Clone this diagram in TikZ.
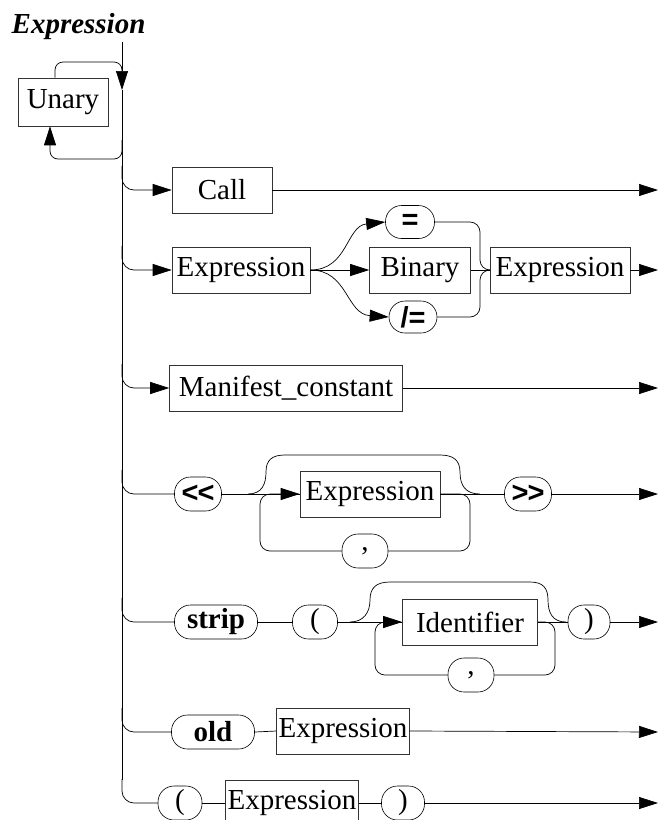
\documentclass[tikz,border=0pt]{standalone}
\usepackage{fontspec}
\setmainfont{Liberation Serif}
\newfontfamily\opfont{Liberation Sans}
\usetikzlibrary{arrows.meta}

\tikzset{
  ntbox/.style={draw=black!80, line width=0.6pt, minimum height=46pt, inner sep=2pt, font=\fontsize{29}{32}\selectfont},
  tmoval/.style={draw, line width=0.6pt, rounded corners=16pt, minimum height=34pt, inner sep=2pt, font=\fontsize{29}{32}\selectfont},
  arr/.style={-{Triangle[length=19pt,width=12pt]}},
}

\begin{document}
\begin{tikzpicture}[x=1pt, y=-1pt, line width=0.7pt]

\useasboundingbox (0,0) rectangle (660,820);

\node[anchor=base west, font=\fontsize{29}{32}\selectfont\bfseries\itshape] (title) at (8,33) {Expression};

\node[ntbox, minimum width=90pt, minimum height=48pt] (un) at (63,102) {Unary};

\node[ntbox, minimum width=100pt] (call) at (222,190) {Call};

\node[ntbox, minimum width=138pt] (ex1) at (241,270) {Expression};
\node[tmoval, minimum width=49pt, minimum height=33pt] (eq) at (410,222) {\opfont\bfseries =};
\node[ntbox, minimum width=101pt] (bin) at (420,270) {Binary};
\node[tmoval, minimum width=48pt, minimum height=32pt] (ne) at (413,317) {\opfont\bfseries /=};
\node[ntbox, minimum width=140pt] (ex2) at (560,270) {Expression};

\node[ntbox, minimum width=233pt] (mc) at (286,388) {Manifest\_constant};

\node[tmoval, minimum width=47pt] (lt) at (198,494) {\opfont\bfseries <\kern-1pt<};
\node[ntbox, minimum width=140pt] (lx) at (370,494) {Expression};
\node[tmoval, minimum width=46pt] (lc) at (365,551) {,};
\node[tmoval, minimum width=47pt] (gt) at (528,494) {\opfont\bfseries >\kern-1pt>};

\node[tmoval, minimum width=83pt] (st) at (216,622) {\bfseries strip};
\node[tmoval, minimum width=45pt] (lp) at (315,622) {(};
\node[ntbox, minimum width=135pt] (id) at (470,622) {Identifier};
\node[tmoval, minimum width=46pt] (sc) at (471,675) {,};
\node[tmoval, minimum width=42pt] (rp) at (589,622) {)};

\node[tmoval, minimum width=83pt] (od) at (213,732) {\bfseries old};
\node[ntbox, minimum width=130pt] (ox) at (343,731) {Expression};

\node[tmoval, minimum width=44pt] (pl) at (180,803) {(};
\node[ntbox, minimum width=130pt] (px) at (292,803) {Expression};
\node[tmoval, minimum width=43pt] (pr) at (403,803) {)};

\coordinate (top) at (122,42);
\coordinate (bot) at (122,780);
\foreach \n/\y in {1/190, 2/270, 3/388, 4/494, 5/622, 6/732, 7/803} {
  \coordinate (end\n) at (658,\y);
}



\draw[arr] (top) -- (122,90);
\draw (122,90) -- (bot);
\draw[rounded corners=8pt] ([xshift=-8pt]un.north) -- (55,62) -- (122,62) -- (122,80);
\draw[arr, rounded corners=8pt] (122,140) |- (50,159) -- ([xshift=-13pt]un.south);

\foreach \n/\y in {call/190, ex1/270, mc/388} {
  \draw[arr, rounded corners=12pt] (122,\y-24) |- (\n.west);
}
\foreach \n/\y in {lt/494, st/622, od/732, pl/803} {
  \draw[rounded corners=12pt] (122,\y-24) |- (\n.west);
}



\draw[arr] (call.east) -- (end1);

\draw[arr] (ex1.east) -- (bin.west);
\draw[arr] (ex1.east) .. controls (348,270) and (346,226) .. (eq.west);
\draw[arr] (ex1.east) .. controls (348,270) and (346,314) .. (ne.west);
\draw (bin.east) -- (ex2.west);
\draw[rounded corners=10pt] (eq.east) -| (480,270) -- (ex2.west);
\draw[rounded corners=10pt] (ne.east) -| (480,270) -- (ex2.west);
\draw[arr] (ex2.east) -- (end2);

\draw[arr] (mc.east) -- (end3);

\draw (lt.east) -- (lx.west);
\draw (lx.east) -- (gt.west);
\draw[arr] (gt.east) -- (end4);
\draw (248,494) .. controls (262,494) and (266,484) .. (266,472) .. controls (266,460) and (272,455) .. (285,455) -- (440,455) .. controls (453,455) and (460,460) .. (460,472) .. controls (460,486) and (466,494) .. (480,494);
\draw[rounded corners=10pt] (lx.east) -| (470,551) -- (lc.east);
\draw[arr, rounded corners=10pt] (lc.west) -| (260,494) -- (lx.west);

\draw (st.east) -- (lp.west);
\draw (lp.east) -- (id.west);
\draw (id.east) -- (rp.west);
\draw[arr] (rp.east) -- (end5);
\draw (350,622) .. controls (364,622) and (370,612) .. (370,600) .. controls (370,588) and (376,582) .. (390,582) -- (530,582) .. controls (543,582) and (548,588) .. (548,600) .. controls (548,612) and (552,622) .. (566,622);
\draw[rounded corners=10pt] (id.east) -| (555,675) -- (sc.east);
\draw[arr, rounded corners=10pt] (sc.west) -| (375,622) -- (id.west);

\draw (od.east) -- (ox.west);
\draw[arr] (ox.east) -- (end6);

\draw (pl.east) -- (px.west);
\draw (px.east) -- (pr.west);
\draw[arr] (pr.east) -- (end7);

\end{tikzpicture}
\end{document}
